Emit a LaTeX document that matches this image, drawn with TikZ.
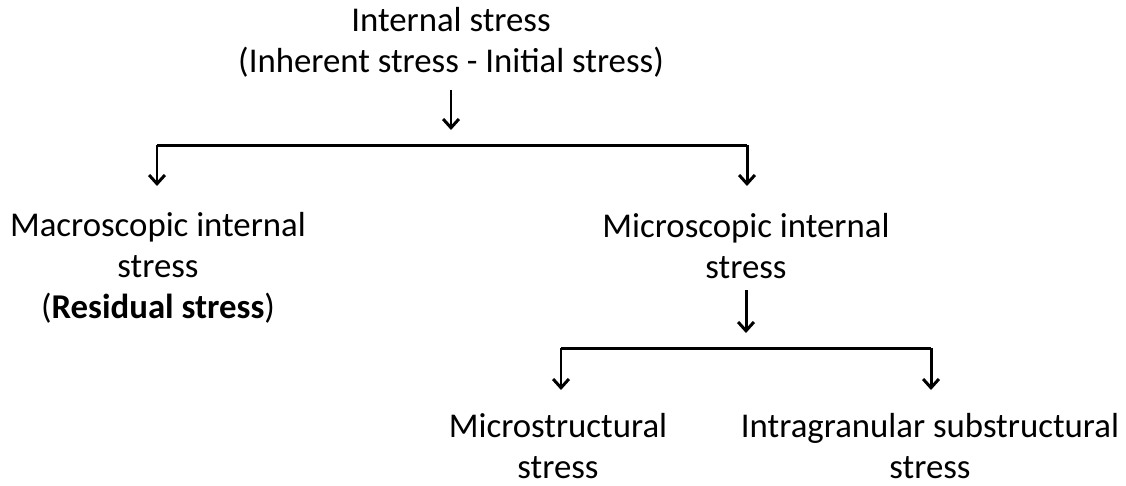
\documentclass[tikz,border=0pt]{standalone}
\usepackage{fontspec}
\setmainfont{Carlito}
\usetikzlibrary{arrows.meta}

\tikzset{
	lbl/.style = {align=center, font=\fontsize{19.8}{23.2}\selectfont, inner sep=0pt, anchor=base},
	arr/.style = {line width=1.7pt, -{Straight Barb[length=5pt,width=9pt,line width=1.7pt]}},
	bar/.style = {line width=1.7pt}
}

\begin{document}
\begin{tikzpicture}[x = 0.02cm, y = -0.02cm]
\useasboundingbox (0,0) rectangle (1126,485);

\node[lbl] (top) at (451,72) {Internal stress\\(Inherent stress - Initial stress)};
\node[lbl] (macro) at (158,318) {Macroscopic internal\\stress\\(\textbf{Residual stress})};
\node[lbl] (micro) at (746,278) {Microscopic internal\\stress};
\node[lbl] (mstruct) at (558,478) {Microstructural\\stress};
\node[lbl] (intra) at (930,478) {Intragranular substructural\\stress};

\coordinate (a1) at (451,90);
\coordinate (a2) at (451,130);
\coordinate (b1) at (157,145);
\coordinate (b2) at (747,145);
\coordinate (c1) at (746,290);
\coordinate (c2) at (746,333);
\coordinate (d1) at (561,348);
\coordinate (d2) at (931,348);

\draw[arr] (a1) -- (a2);
\draw[bar] (b1) -- (b2);
\foreach \p in {b1,b2}{
	\draw[arr] (\p) -- ++(0,41);
}
\draw[arr] (c1) -- (c2);
\draw[bar] (d1) -- (d2);
\foreach \p in {d1,d2}{
	\draw[arr] (\p) -- ++(0,42);
}
\end{tikzpicture}
\end{document}
